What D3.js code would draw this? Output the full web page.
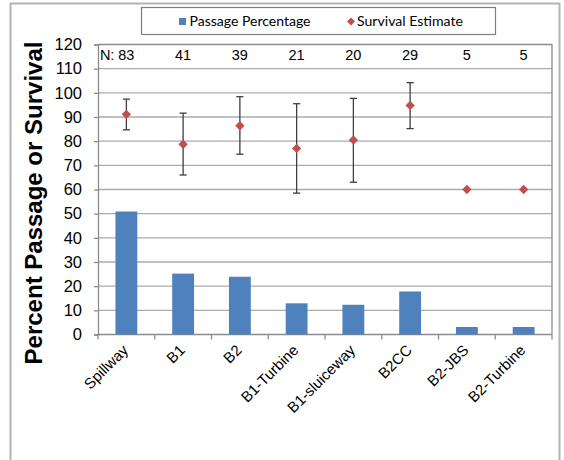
<!DOCTYPE html>
<html>
<head>
<meta charset="utf-8">
<script src="https://cdn.jsdelivr.net/npm/d3@7"></script>
<style>
  html, body { margin: 0; padding: 0; background: #fff; }
  svg { display: block; }
</style>
</head>
<body>
<svg id="chart" width="564" height="460"></svg>
<script>
// Route categories and their fish counts
const categories = ["Spillway", "B1", "B2", "B1-Turbine", "B1-sluiceway", "B2CC", "B2-JBS", "B2-Turbine"];
const counts = [83, 41, 39, 21, 20, 29, 5, 5];
// Percent of fish passing each route
const passagePct = [50.9, 25.2, 23.9, 12.9, 12.3, 17.8, 3.1, 3.1];
// Survival estimates with upper / lower confidence bounds (null = no interval)
const survival = [91.1, 78.7, 86.4, 77.0, 80.5, 94.8, 60.0, 60.0];
const survivalUpper = [97.4, 91.6, 98.4, 95.5, 97.7, 104.2, null, null];
const survivalLower = [84.7, 66.0, 74.6, 58.5, 63.0, 85.2, null, null];
const yTicks = [0, 10, 20, 30, 40, 50, 60, 70, 80, 90, 100, 110, 120];

const svg = d3.select("#chart");
const plot = { left: 98, right: 552, top: 44.5, bottom: 334.5 };

const x = d3.scaleBand().domain(categories).range([plot.left, plot.right]).paddingInner(0).paddingOuter(0);
const y = d3.scaleLinear().domain([0, 120]).range([plot.bottom, plot.top]);

const gridColor = "#ababab";
const axisColor = "#8c8c8c";
const barColor = "#4f81bd";
const markColor = "#c0504d";
const errColor = "#3f3f3f";
const arial = "'Liberation Sans', Arial, sans-serif";

// outer chart frame
svg.append("rect")
  .attr("x", 10.5).attr("y", 3.5).attr("width", 549).attr("height", 480)
  .attr("fill", "none").attr("stroke", "#b3b3b3").attr("stroke-width", 2);

// horizontal gridlines
svg.append("g").selectAll("line")
  .data(yTicks.filter(t => t > 0 && t < 120))
  .join("line")
  .attr("x1", plot.left).attr("x2", plot.right)
  .attr("y1", d => y(d)).attr("y2", d => y(d))
  .attr("stroke", gridColor).attr("stroke-width", 1.3);

// plot frame top and right
svg.append("path")
  .attr("d", `M${plot.left},${y(120)}H${plot.right}V${plot.bottom}`)
  .attr("fill", "none").attr("stroke", axisColor).attr("stroke-width", 1.3);

// y axis
const yAxis = d3.axisLeft(y).tickValues(yTicks).tickSize(4).tickPadding(12);
const gy = svg.append("g").attr("transform", `translate(${plot.left},0)`).call(yAxis);
gy.select(".domain").attr("stroke", axisColor).attr("stroke-width", 1.3);
gy.selectAll(".tick line").attr("stroke", axisColor).attr("stroke-width", 1.3);
gy.selectAll(".tick text")
  .attr("fill", "#000")
  .style("font-family", arial)
  .style("font-size", "16.5px");

// x axis with ticks on category boundaries
const gx = svg.append("g").attr("transform", `translate(0,${plot.bottom})`);
gx.append("line").attr("x1", plot.left).attr("x2", plot.right)
  .attr("stroke", axisColor).attr("stroke-width", 1.3);
gx.selectAll(".bnd")
  .data(d3.range(categories.length + 1))
  .join("line").attr("class", "bnd")
  .attr("x1", i => plot.left + i * x.bandwidth())
  .attr("x2", i => plot.left + i * x.bandwidth())
  .attr("y1", 0).attr("y2", 5)
  .attr("stroke", axisColor).attr("stroke-width", 1.3);
gx.selectAll(".lbl")
  .data(categories)
  .join("text").attr("class", "lbl")
  .attr("transform", d => `translate(${x(d) + x.bandwidth() / 2 - 1},${13}) rotate(-45)`)
  .attr("text-anchor", "end")
  .attr("dy", "0.35em")
  .style("font-family", arial)
  .style("font-size", "15px")
  .attr("fill", "#000")
  .text(d => d);

// passage bars
const barW = x.bandwidth() * 0.385;
svg.append("g").selectAll("rect")
  .data(categories)
  .join("rect")
  .attr("x", d => x(d) + (x.bandwidth() - barW) / 2)
  .attr("width", barW)
  .attr("y", (d, i) => y(passagePct[i]))
  .attr("height", (d, i) => y(0) - y(passagePct[i]))
  .attr("fill", barColor);

// survival error bars
const cap = 3.6;
const errG = svg.append("g");
categories.forEach((c, i) => {
  if (survivalUpper[i] == null) return;
  const cx = x(c) + x.bandwidth() / 2;
  errG.append("line")
    .attr("x1", cx).attr("x2", cx)
    .attr("y1", y(survivalUpper[i])).attr("y2", y(survivalLower[i]))
    .attr("stroke", errColor).attr("stroke-width", 1.3);
  [survivalUpper[i], survivalLower[i]].forEach(v => {
    errG.append("line")
      .attr("x1", cx - cap).attr("x2", cx + cap)
      .attr("y1", y(v)).attr("y2", y(v))
      .attr("stroke", errColor).attr("stroke-width", 1.3);
  });
});

// survival markers
const diamond = d3.symbol().type(d3.symbolDiamond2).size(56);
svg.append("g").selectAll("path")
  .data(categories)
  .join("path")
  .attr("transform", (d, i) => `translate(${x(d) + x.bandwidth() / 2},${y(survival[i])})`)
  .attr("d", diamond)
  .attr("fill", markColor);

// sample size labels
const nG = svg.append("g")
  .style("font-family", arial)
  .style("font-size", "14.5px");
nG.selectAll("text")
  .data(categories)
  .join("text")
  .attr("x", d => x(d) + x.bandwidth() / 2)
  .attr("y", 60)
  .attr("text-anchor", "middle")
  .text((d, i) => counts[i]);
nG.append("text")
  .attr("x", x(categories[0]) + x.bandwidth() / 2 - 12)
  .attr("y", 60)
  .attr("text-anchor", "end")
  .text("N:");

// y axis title
svg.append("text")
  .attr("transform", `translate(42,203) rotate(-90)`)
  .attr("text-anchor", "middle")
  .style("font-family", arial)
  .style("font-size", "24px")
  .style("font-weight", "bold")
  .text("Percent Passage or Survival");

// legend
const lg = svg.append("g");
lg.append("rect")
  .attr("x", 141.5).attr("y", 7.5).attr("width", 354).attr("height", 27)
  .attr("fill", "#fff").attr("stroke", "#7f7f7f").attr("stroke-width", 1.2);
lg.append("rect")
  .attr("x", 179).attr("y", 18).attr("width", 7).attr("height", 7)
  .attr("fill", barColor);
lg.append("text")
  .attr("x", 189.5).attr("y", 21.5).attr("dy", "0.35em")
  .attr("textLength", 121).attr("lengthAdjust", "spacingAndGlyphs")
  .style("font-family", "Lato, 'Open Sans', sans-serif")
  .style("font-size", "14px")
  .text("Passage Percentage");
lg.append("path")
  .attr("transform", "translate(351,21.5)")
  .attr("d", d3.symbol().type(d3.symbolDiamond2).size(40))
  .attr("fill", markColor);
lg.append("text")
  .attr("x", 357).attr("y", 21.5).attr("dy", "0.35em")
  .attr("textLength", 106).attr("lengthAdjust", "spacingAndGlyphs")
  .style("font-family", "Lato, 'Open Sans', sans-serif")
  .style("font-size", "14px")
  .text("Survival Estimate");
</script>
</body>
</html>
